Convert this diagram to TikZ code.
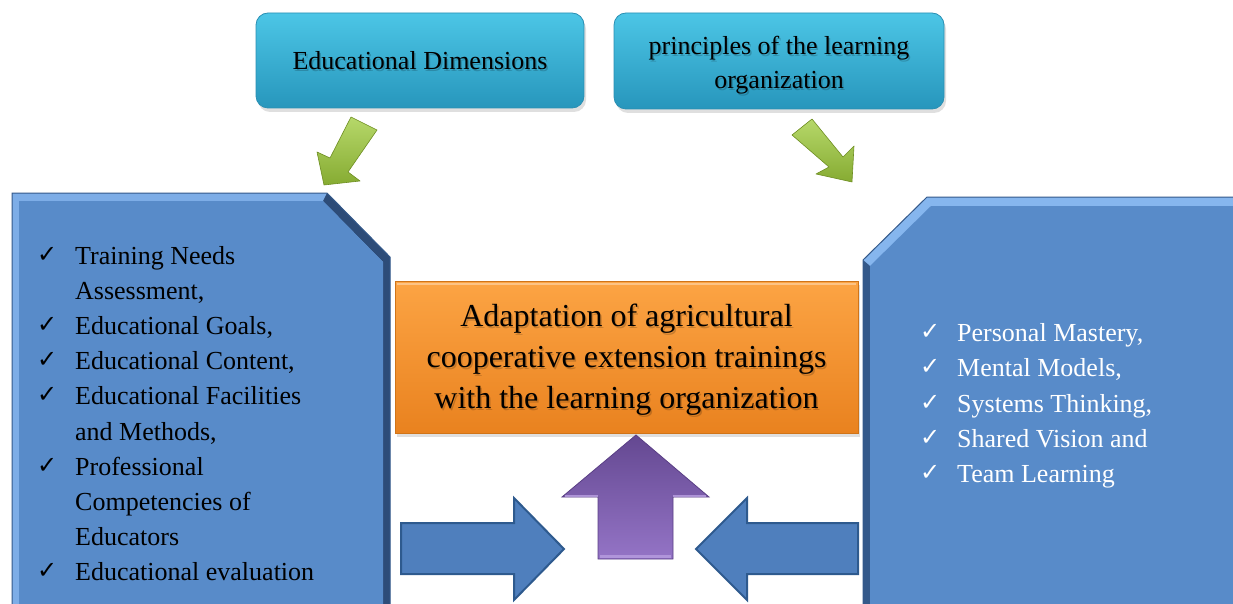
\documentclass[tikz,border=0pt]{standalone}
\usepackage{fontspec}
\setmainfont{Liberation Serif}
\newfontfamily\symfont{DejaVu Sans}
\usetikzlibrary{shadows}

\definecolor{cyantop}{HTML}{4CC6E6}
\definecolor{cyanbot}{HTML}{2796BC}
\definecolor{cyanedge}{HTML}{2A8FB3}
\definecolor{panelfill}{HTML}{588BC9}
\definecolor{panellight}{HTML}{86B6EE}
\definecolor{paneldark}{HTML}{2D4C78}
\definecolor{paneledge}{HTML}{34598A}
\definecolor{orangetop}{HTML}{FCA444}
\definecolor{orangebot}{HTML}{E9821F}
\definecolor{orangeedge}{HTML}{D07418}
\definecolor{purpletop}{HTML}{644891}
\definecolor{purplebot}{HTML}{9474C6}
\definecolor{purpleedge}{HTML}{5A3F85}
\definecolor{purplelight}{HTML}{C4ACEA}
\definecolor{arrowblue}{HTML}{4F7FBD}
\definecolor{arrowedge}{HTML}{2E5A8E}
\definecolor{greentop}{HTML}{B6D86A}
\definecolor{greenbot}{HTML}{86AB32}
\definecolor{greenedge}{HTML}{6E8E22}

\begin{document}
\begin{tikzpicture}[x=1pt,y=-1pt,
  topbox/.style={draw=cyanedge, line width=0.8pt, rounded corners=12pt,
    top color=cyantop, bottom color=cyanbot,
    drop shadow={opacity=0.25, shadow xshift=2pt, shadow yshift=-4pt}},
  centerbox/.style={draw=orangeedge, line width=1pt,
    top color=orangetop, bottom color=orangebot,
    drop shadow={opacity=0.25, shadow xshift=2pt, shadow yshift=-4pt}},
  txt/.style={inner sep=0pt, font=\fontsize{26}{34}\selectfont},
  bigtxt/.style={inner sep=0pt, font=\fontsize{32}{41}\selectfont},
  txtshadow/.style={text=black, opacity=0.18},
  chk/.style={inner sep=0pt, anchor=base west, font=\symfont\fontsize{24}{24}\selectfont},
  item/.style={txt, anchor=base west},
  greenarrow/.style={draw=greenedge, line width=0.6pt, top color=greentop, bottom color=greenbot, line join=round},
  bluearrow/.style={draw=arrowedge, line width=2pt, fill=arrowblue, line join=miter},
  purplearrow/.style={draw=purpleedge, line width=0.8pt, top color=purpletop, bottom color=purplebot}
]
\useasboundingbox (0,0) rectangle (1233,604);
\clip (0,0) rectangle (1233,604);

% ---------- top boxes ----------
\node[topbox, minimum width=328pt, minimum height=95pt] (dims) at (420,60.5) {};
\node[topbox, minimum width=330pt, minimum height=96pt] (prin) at (779,61) {};

\node[txt, anchor=base, txtshadow] (dims-s) at (421.5,71.1) {Educational Dimensions};
\node[txt, anchor=base] (dims-t) at (420,69.6) {Educational Dimensions};
\node[txt, anchor=base, txtshadow] (prin-s1) at (780.5,56.1) {principles of the learning};
\node[txt, anchor=base] (prin-t1) at (779,54.6) {principles of the learning};
\node[txt, anchor=base, txtshadow] (prin-s2) at (780.5,90.1) {organization};
\node[txt, anchor=base] (prin-t2) at (779,88.6) {organization};

% ---------- green arrows ----------
\path[greenarrow] (351,117) -- (377,130) -- (348,172) -- (360,181) -- (324,185)
  -- (317,152) -- (330,158) -- cycle;
\path[greenarrow] (812,119) -- (792,135) -- (829,167) -- (816,174) -- (852,182)
  -- (854,146) -- (843,157) -- cycle;

% ---------- left panel ----------
\fill[panellight!80!panelfill] (12,193) -- (327,193) -- (390,257) -- (390,610) -- (12,610) -- cycle;
\fill[paneldark] (327,193) -- (390,257) -- (390,610) -- (383,610) -- (383,262) -- (323,201) -- cycle;
\fill[panelfill] (19,201) -- (323,201) -- (383,262) -- (383,610) -- (19,610) -- cycle;
\draw[paneledge, line width=1pt] (12,610) -- (12,193) -- (327,193) -- (390,257) -- (390,610);

% ---------- right panel ----------
\fill[panellight] (927,197) -- (1240,197) -- (1240,610) -- (863,610) -- (863,260) -- cycle;
\fill[paneledge] (863,260) -- (870,266) -- (870,610) -- (863,610) -- cycle;
\fill[panelfill] (931,206) -- (1240,206) -- (1240,610) -- (870,610) -- (870,266) -- cycle;
\draw[paneledge, line width=1pt] (863,610) -- (863,260) -- (927,197) -- (1240,197);

% ---------- centre box ----------
\node[centerbox, minimum width=463pt, minimum height=152pt] (adapt) at (626.5,357) {};
\draw[white, opacity=0.35, line width=2pt] (397,283.5) -- (856,283.5);
\foreach \t/\y [count=\i] in {Adaptation of agricultural/326.5,
    cooperative extension trainings/367.5,
    with the learning organization/408.5}{
  \node[bigtxt, anchor=base, txtshadow] (adapt-s\i) at (628,\y+1.5) {\t};
  \node[bigtxt, anchor=base] (adapt-t\i) at (626.5,\y) {\t};
}

% ---------- arrows towards the centre ----------
\path[purplearrow] (636,435) -- (709,497) -- (673,497) -- (673,559) -- (598,559)
  -- (598,497) -- (562,497) -- cycle;
\draw[purplelight, opacity=0.7, line width=2pt] (565,495.5) -- (598,495.5);
\draw[purplelight, opacity=0.7, line width=2pt] (673,495.5) -- (706,495.5);
\draw[purplelight, opacity=0.6, line width=3pt] (600,556) -- (671,556);

\path[bluearrow] (401,523) -- (514,523) -- (514,498) -- (564,549) -- (514,600)
  -- (514,574) -- (401,574) -- cycle;
\path[bluearrow] (858,523) -- (747,523) -- (747,498) -- (696,549) -- (747,600)
  -- (747,574) -- (858,574) -- cycle;

% ---------- left list ----------
\foreach \y in {262,332.4,367.6,402.8,473.2,578.8}{
  \node[chk] at (37,\y) {✓};
}
\node[item] (l1) at (75,264) {Training Needs};
\node[item] (l2) at (75,299.2) {Assessment,};
\node[item] (l3) at (75,334.4) {Educational Goals,};
\node[item] (l4) at (75,369.6) {Educational Content,};
\node[item] (l5) at (75,404.8) {Educational Facilities};
\node[item] (l6) at (75,440) {and Methods,};
\node[item] (l7) at (75,475.2) {Professional};
\node[item] (l8) at (75,510.4) {Competencies of};
\node[item] (l9) at (75,545.6) {Educators};
\node[item] (l10) at (75,580.8) {Educational evaluation};

% ---------- right list ----------
\foreach \t/\y [count=\i] in {{Personal Mastery,}/341.6, {Mental Models,}/376.8,
    {Systems Thinking,}/412, {Shared Vision and}/447.2, {Team Learning}/482.4}{
  \node[chk, text=white] at (920,\y-2) {✓};
  \node[item, text=white] (r\i) at (957,\y) {\t};
}
\end{tikzpicture}
\end{document}
